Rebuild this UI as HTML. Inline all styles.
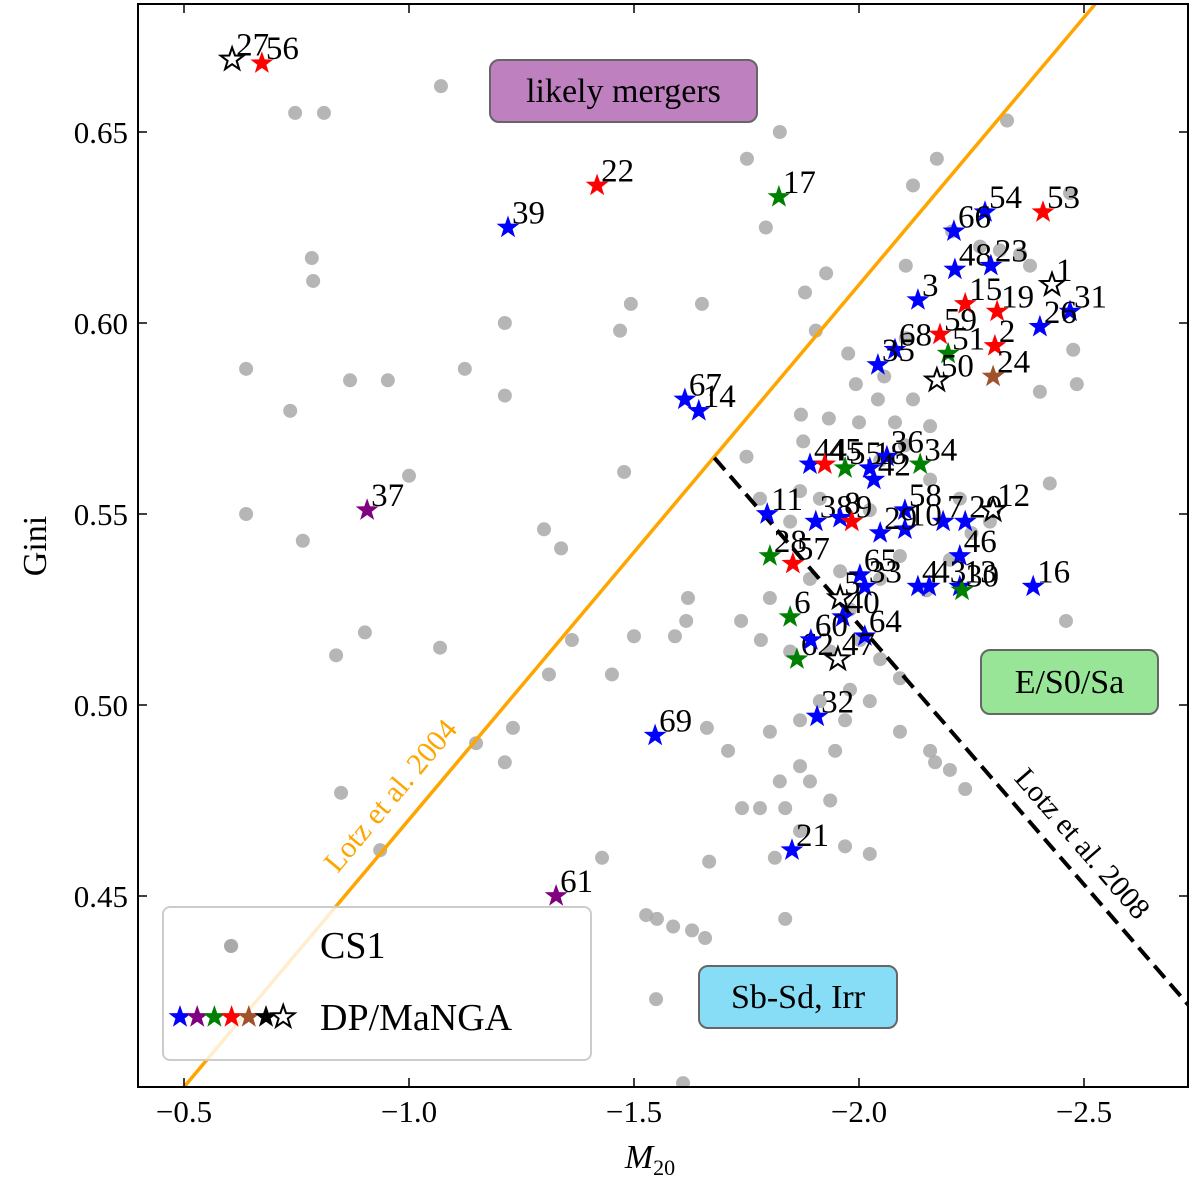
<!DOCTYPE html>
<html><head><meta charset="utf-8"><style>
body{margin:0;background:#fff}
svg text{font-family:"Liberation Serif",serif}
</style></head><body>
<svg id="c" width="1200" height="1192" viewBox="0 0 1200 1192" xmlns="http://www.w3.org/2000/svg">
<rect width="1200" height="1192" fill="#fff"/>
<g id="plot"></g>
</svg>
<script>
const greyM20=[-0.607,-0.747,-0.811,-1.071,-0.784,-0.787,-0.638,-0.736,-0.869,-0.953,-1.0,-1.124,-1.213,-1.213,-0.638,-0.764,-0.838,-0.902,-1.069,-0.849,-0.936,-1.149,-1.213,-1.231,-1.300,-1.338,-1.362,-1.311,-1.451,-1.493,-1.469,-1.478,-1.651,-1.620,-1.616,-1.591,-1.500,-1.429,-1.527,-1.551,-1.587,-1.658,-1.629,-1.549,-1.609,-1.662,-1.709,-1.667,-1.751,-1.824,-1.793,-1.927,-1.880,-1.904,-1.976,-1.993,-2.042,-2.056,-2.104,-2.104,-2.120,-2.173,-2.207,-2.329,-2.469,-2.476,-2.484,-2.402,-2.380,-2.313,-2.269,-2.358,-2.424,-2.460,-1.871,-1.933,-2.0,-2.080,-2.158,-2.102,-2.047,-1.876,-1.869,-1.913,-1.780,-1.847,-2.024,-2.158,-2.224,-2.291,-2.202,-2.091,-2.047,-1.958,-1.891,-1.802,-1.738,-1.782,-1.847,-1.936,-2.002,-2.047,-2.091,-1.980,-1.913,-1.869,-1.802,-1.969,-2.024,-2.091,-2.158,-2.202,-2.236,-2.169,-1.869,-1.947,-1.891,-1.936,-1.824,-1.780,-1.836,-1.740,-1.813,-1.869,-1.969,-2.024,-1.836,-2.15,-2.25,-1.75,-2.12,-1.98];
const greyGini=[0.437,0.655,0.655,0.662,0.617,0.611,0.588,0.577,0.585,0.585,0.560,0.588,0.600,0.581,0.550,0.543,0.513,0.519,0.515,0.477,0.462,0.490,0.485,0.494,0.546,0.541,0.517,0.508,0.508,0.605,0.598,0.561,0.605,0.528,0.522,0.518,0.518,0.460,0.445,0.444,0.442,0.439,0.441,0.423,0.401,0.494,0.488,0.459,0.643,0.650,0.625,0.613,0.608,0.598,0.592,0.584,0.580,0.586,0.596,0.615,0.636,0.643,0.624,0.653,0.634,0.593,0.584,0.582,0.615,0.619,0.620,0.618,0.558,0.522,0.576,0.575,0.574,0.574,0.573,0.568,0.564,0.569,0.556,0.554,0.554,0.548,0.551,0.559,0.554,0.548,0.538,0.539,0.533,0.535,0.533,0.528,0.522,0.517,0.514,0.514,0.517,0.512,0.507,0.504,0.501,0.496,0.493,0.496,0.501,0.493,0.488,0.483,0.478,0.485,0.484,0.488,0.480,0.475,0.480,0.473,0.473,0.473,0.460,0.467,0.463,0.461,0.444,0.530,0.545,0.565,0.580,0.525];
const starLabels=["27","56","22","17","39","54","53","66","48","23","1","3","15","19","31","26","59","68","2","51","35","50","24","67","14","37","44","45","55","18","36","42","34","11","38","8","9","58","7","20","12","10","28","57","29","65","33","5","46","4","13","30","43","16","6","64","62","47","32","69","21","61","40","60"];
const starM20=[-0.607,-0.673,-1.418,-1.822,-1.220,-2.280,-2.409,-2.211,-2.213,-2.293,-2.429,-2.131,-2.236,-2.307,-2.469,-2.402,-2.180,-2.080,-2.302,-2.198,-2.042,-2.173,-2.298,-1.613,-1.644,-0.907,-1.891,-1.924,-1.969,-2.024,-2.062,-2.033,-2.136,-1.796,-1.904,-1.958,-1.984,-2.102,-2.187,-2.236,-2.298,-2.102,-1.802,-1.853,-2.047,-2.002,-2.013,-1.958,-2.224,-2.131,-2.224,-2.229,-2.156,-2.387,-1.847,-2.013,-1.862,-1.953,-1.907,-1.547,-1.851,-1.327,-1.964,-1.893];
const starGini=[0.669,0.668,0.636,0.633,0.625,0.629,0.629,0.624,0.614,0.615,0.610,0.606,0.605,0.603,0.603,0.599,0.597,0.593,0.594,0.592,0.589,0.585,0.586,0.580,0.577,0.551,0.563,0.563,0.562,0.562,0.565,0.559,0.563,0.550,0.548,0.549,0.548,0.551,0.548,0.548,0.551,0.546,0.539,0.537,0.545,0.534,0.531,0.528,0.539,0.531,0.531,0.530,0.531,0.531,0.523,0.518,0.512,0.512,0.497,0.492,0.462,0.450,0.523,0.517];
const starColors=["open","red","red","green","blue","blue","red","blue","blue","blue","open","blue","red","red","blue","blue","red","blue","red","green","blue","open","sienna","blue","blue","purple","blue","red","green","blue","blue","blue","green","blue","blue","blue","red","blue","blue","blue","open","blue","green","red","blue","blue","blue","open","blue","blue","blue","green","blue","blue","green","blue","green","open","blue","blue","blue","purple","blue","blue"];
const xTicks=[-0.5,-1.0,-1.5,-2.0,-2.5];
const xTickLabels=["\u22120.5","\u22121.0","\u22121.5","\u22122.0","\u22122.5"];
const yTicks=[0.45,0.50,0.55,0.60,0.65];
const yTickLabels=["0.45","0.50","0.55","0.60","0.65"];

const L=138,R=1188,T=4,B=1087;
const X=v=>184+(-v-0.5)*450;
const Y=v=>132+(0.65-v)*3820;
const NS="http://www.w3.org/2000/svg";
const g=document.getElementById('plot');
function mk(tag,attrs,parent){const e=document.createElementNS(NS,tag);for(const k in attrs)e.setAttribute(k,attrs[k]);(parent||g).appendChild(e);return e;}
function starPts(cx,cy,r){let p=[];for(let i=0;i<10;i++){const a=-Math.PI/2+i*Math.PI/5;const rr=i%2?r*0.4:r;p.push((cx+rr*Math.cos(a)).toFixed(1)+','+(cy+rr*Math.sin(a)).toFixed(1));}return p.join(' ');}

const defs=mk('defs',{});const cp=mk('clipPath',{id:'clip'},defs);mk('rect',{x:L,y:T,width:R-L,height:B-T},cp);
const pg=mk('g',{'clip-path':'url(#clip)'});

greyM20.forEach((m,i)=>{
  const c=mk('circle',{cx:X(m),cy:Y(greyGini[i]),r:7,fill:'#a9a9a9','fill-opacity':0.85},pg);
  
  
});

const l1=mk('line',{x1:X(-0.3),y1:Y(-0.14*-0.3+0.33),x2:X(-2.8),y2:Y(-0.14*-2.8+0.33),stroke:'orange','stroke-width':3.5},pg);


const mi=-0.47/0.28;
const l2=mk('line',{x1:X(mi),y1:Y(0.136*mi+0.793),x2:X(-2.8),y2:Y(0.136*-2.8+0.793),stroke:'#000','stroke-width':4,'stroke-dasharray':'16,8'},pg);



const colMap={blue:'#0000ff',red:'#ff0000',green:'#008000',purple:'#800080',sienna:'#a0522d',black:'#000'};
starM20.forEach((m,i)=>{
  const cx=X(m),cy=Y(starGini[i]);const c=starColors[i];
  const s=mk('polygon',{points:starPts(cx,cy,12),fill:c==='open'?'#fff':colMap[c],stroke:c==='open'?'#000':'none','stroke-width':2},pg);
  
  
  const t=mk('text',{x:cx+4,y:cy-4,'font-size':33,fill:'#000'},pg);t.textContent=starLabels[i];
  
  
});

const t1=mk('text',{x:0,y:0,'font-size':30,fill:'orange','text-anchor':'middle',transform:'translate(398,802) rotate(-50)'},pg);t1.textContent='Lotz et al. 2004';

const t2=mk('text',{x:0,y:0,'font-size':30,fill:'#000','text-anchor':'middle',transform:'translate(1075,850) rotate(49)'},pg);t2.textContent='Lotz et al. 2008';


function box(x,y,w,h,fill,txt,name){
  const gg=mk('g',{},pg);
  mk('rect',{x,y,width:w,height:h,rx:9,fill,stroke:'#666','stroke-width':2},gg);
  const t=mk('text',{x:x+w/2,y:y+h/2+11,'font-size':34,'text-anchor':'middle',fill:'#000'},gg);t.textContent=txt;
}
box(490,60,267,62,'#bf80bf','likely mergers','likely-mergers-box');
box(981,650,177,64,'#98e598','E/S0/Sa','e-s0-sa-box');
box(699,966,198,62,'#87dcf6','Sb-Sd, Irr','sb-sd-irr-box');

const lg=mk('g',{});
mk('rect',{x:163,y:907,width:428,height:153,rx:7,fill:'#fff','fill-opacity':0.8,stroke:'#ccc','stroke-width':2},lg);
mk('circle',{cx:231,cy:946,r:7,fill:'#a9a9a9'},lg);
const lt1=mk('text',{x:320,y:958,'font-size':38},lg);lt1.textContent='CS1';

['blue','purple','green','red','sienna','black','open'].forEach((c,i)=>{
  mk('polygon',{points:starPts(180+i*17.2,1017,12),fill:c==='open'?'#fff':colMap[c],stroke:c==='open'?'#000':'none','stroke-width':2},lg);
});
const lt2=mk('text',{x:320,y:1030,'font-size':38},lg);lt2.textContent='DP/MaNGA';


mk('rect',{x:L,y:T,width:R-L,height:B-T,fill:'none',stroke:'#000','stroke-width':2});
xTicks.forEach((v,i)=>{
  const x=X(v);
  mk('line',{x1:x,y1:B,x2:x,y2:B-9,stroke:'#000','stroke-width':1.5});
  mk('line',{x1:x,y1:T,x2:x,y2:T+9,stroke:'#000','stroke-width':1.5});
  const t=mk('text',{x:x,y:1122,'font-size':31,'text-anchor':'middle'});t.textContent=xTickLabels[i];
  
});
yTicks.forEach((v,i)=>{
  const y=Y(v);
  mk('line',{x1:L,y1:y,x2:L+9,y2:y,stroke:'#000','stroke-width':1.5});
  mk('line',{x1:R,y1:y,x2:R-9,y2:y,stroke:'#000','stroke-width':1.5});
  const t=mk('text',{x:128,y:y+11,'font-size':31,'text-anchor':'end'});t.textContent=yTickLabels[i];
  
});
const xt=mk('text',{x:650,y:1168,'font-size':34,'text-anchor':'middle'});
xt.innerHTML='<tspan font-style="italic">M</tspan><tspan font-size="22" dy="7">20</tspan>';

const yt=mk('text',{x:0,y:0,'font-size':34,'text-anchor':'middle',transform:'translate(46,546) rotate(-90)'});yt.textContent='Gini';

</script>
</body></html>
